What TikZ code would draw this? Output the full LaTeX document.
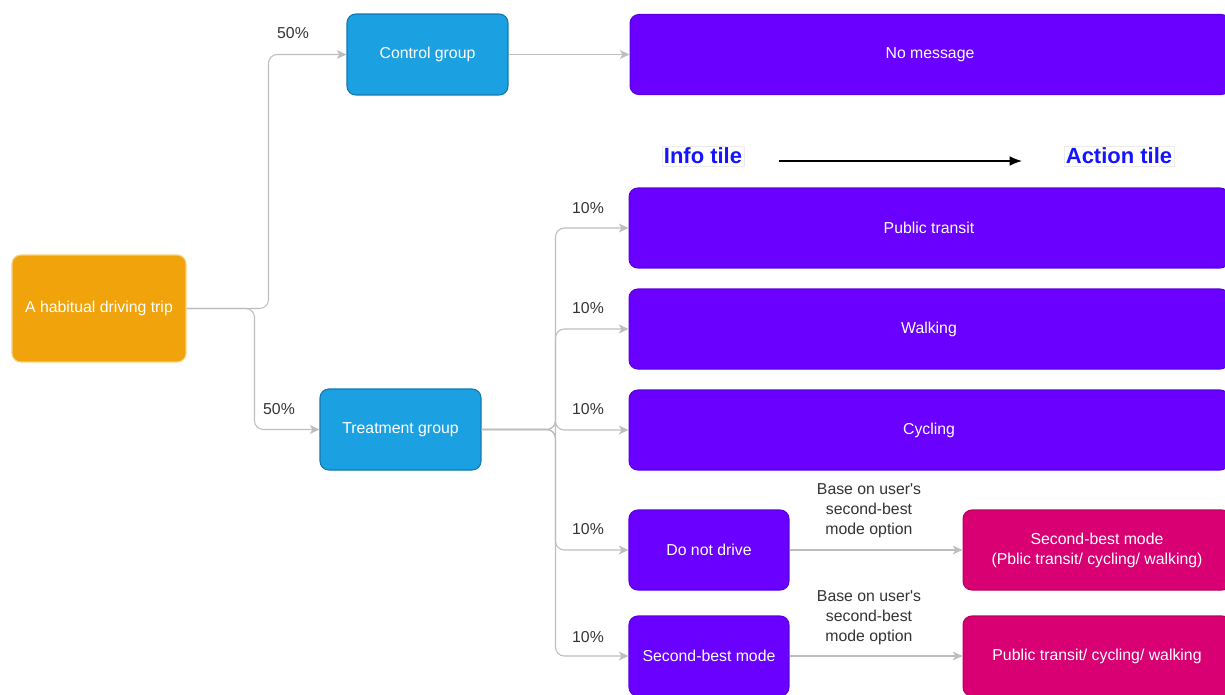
\documentclass[tikz,border=0pt]{standalone}
\usepackage{fontspec}
\setmainfont{Liberation Sans}
\usetikzlibrary{positioning, arrows.meta}

\definecolor{tripfill}{HTML}{F0A30A}
\definecolor{tripline}{HTML}{F6CF84}
\definecolor{groupfill}{HTML}{1BA1E2}
\definecolor{groupline}{HTML}{0E78B0}
\definecolor{tilefill}{HTML}{6A00FF}
\definecolor{tileline}{HTML}{5A00E0}
\definecolor{modefill}{HTML}{D80073}
\definecolor{modeline}{HTML}{B8005F}
\definecolor{edgegray}{HTML}{BDBDBD}
\definecolor{hdrblue}{HTML}{1414FF}

\begin{document}
\begin{tikzpicture}[x=0.02cm, y=-0.02cm, >=latex,
		font=\fontsize{9}{11.3}\selectfont,
		box/.style={rectangle, rounded corners=5pt, text=white, align=center, line width=0.6pt},
		tripbox/.style={box, fill=tripfill, draw=tripline, minimum width=3.48cm, minimum height=2.14cm},
		groupbox/.style={box, fill=groupfill, draw=groupline, minimum width=3.22cm, minimum height=1.62cm},
		tilebox/.style={box, fill=tilefill, draw=tileline, minimum width=12cm, minimum height=1.6cm},
		smallbox/.style={box, fill=tilefill, draw=tileline, minimum width=3.2cm, minimum height=1.6cm},
		modebox/.style={box, fill=modefill, draw=modeline, minimum width=5.36cm, minimum height=1.6cm},
		edge/.style={draw=edgegray, line width=0.6pt, rounded corners=5pt, -{Stealth[length=5.5pt, width=5pt, inset=1.5pt]}},
		pct/.style={text=black!80},
		note/.style={text=black!80, align=center},
		hdr/.style={text=hdrblue, font=\bfseries\fontsize{12.5}{15}\selectfont, fill=white, draw=black!8, line width=0.3pt, inner sep=1pt}]
		\useasboundingbox (0,0) rectangle (1225,694);

		% boxes
		\node [tripbox] (trip) at (99,308.5) {A habitual driving trip};
		\node [groupbox] (ctrl) at (427.5,54.5) {Control group};
		\node [groupbox] (treat) at (400.5,429.5) {Treatment group};

		\node [tilebox] (nomsg) at (930,54.5) {No message};
		\node [tilebox] (pt) at (929,228) {Public transit};
		\node [tilebox] (walk) at (929,329) {Walking};
		\node [tilebox] (cyc) at (929,430) {Cycling};
		\node [smallbox] (dnd) at (709,550) {Do not drive};
		\node [smallbox] (sbm) at (709,656) {Second-best mode};
		\node [modebox] (alt) at (1097,550) {Second-best mode\\(Pblic transit/ cycling/ walking)};
		\node [modebox] (any) at (1097,656) {Public transit/ cycling/ walking};

		% header
		\node [hdr] (info) at (703,156) {Info tile};
		\node [hdr] (action) at (1119,156) {Action tile};
		\draw [-{Latex[length=7pt, width=5.5pt]}, line width=0.6pt, shorten <=0.7cm, shorten >=0.84cm] ([yshift=-0.1cm]info.east) -- ([yshift=-0.1cm]action.west);

		% split
		\draw [edge] (trip.east) -- ++(82,0) |- (ctrl.west);
		\draw [edge] (trip.east) -- ++(68,0) |- (treat.west);
		\node [pct] (pc1) at (293,33) {50\%};
		\node [pct] (pc2) at (279,409) {50\%};

		\draw [edge] (ctrl) -- (nomsg);

		\foreach \t/\ly in {pt/208, walk/308, cyc/409, dnd/529, sbm/637} {
			\draw [edge] (treat.east) -- ++(74,0) |- (\t.west);
			\node [pct] (p-\t) at (588,\ly) {10\%};
		}

		\draw [edge] (dnd) -- (alt);
		\draw [edge] (sbm) -- (any);
		\node [note] (n1) at (869,511) {Base on user\textquotesingle s\\second-best\\mode option};
		\node [note] (n2) at (869,618) {Base on user\textquotesingle s\\second-best\\mode option};
	\end{tikzpicture}
\end{document}
